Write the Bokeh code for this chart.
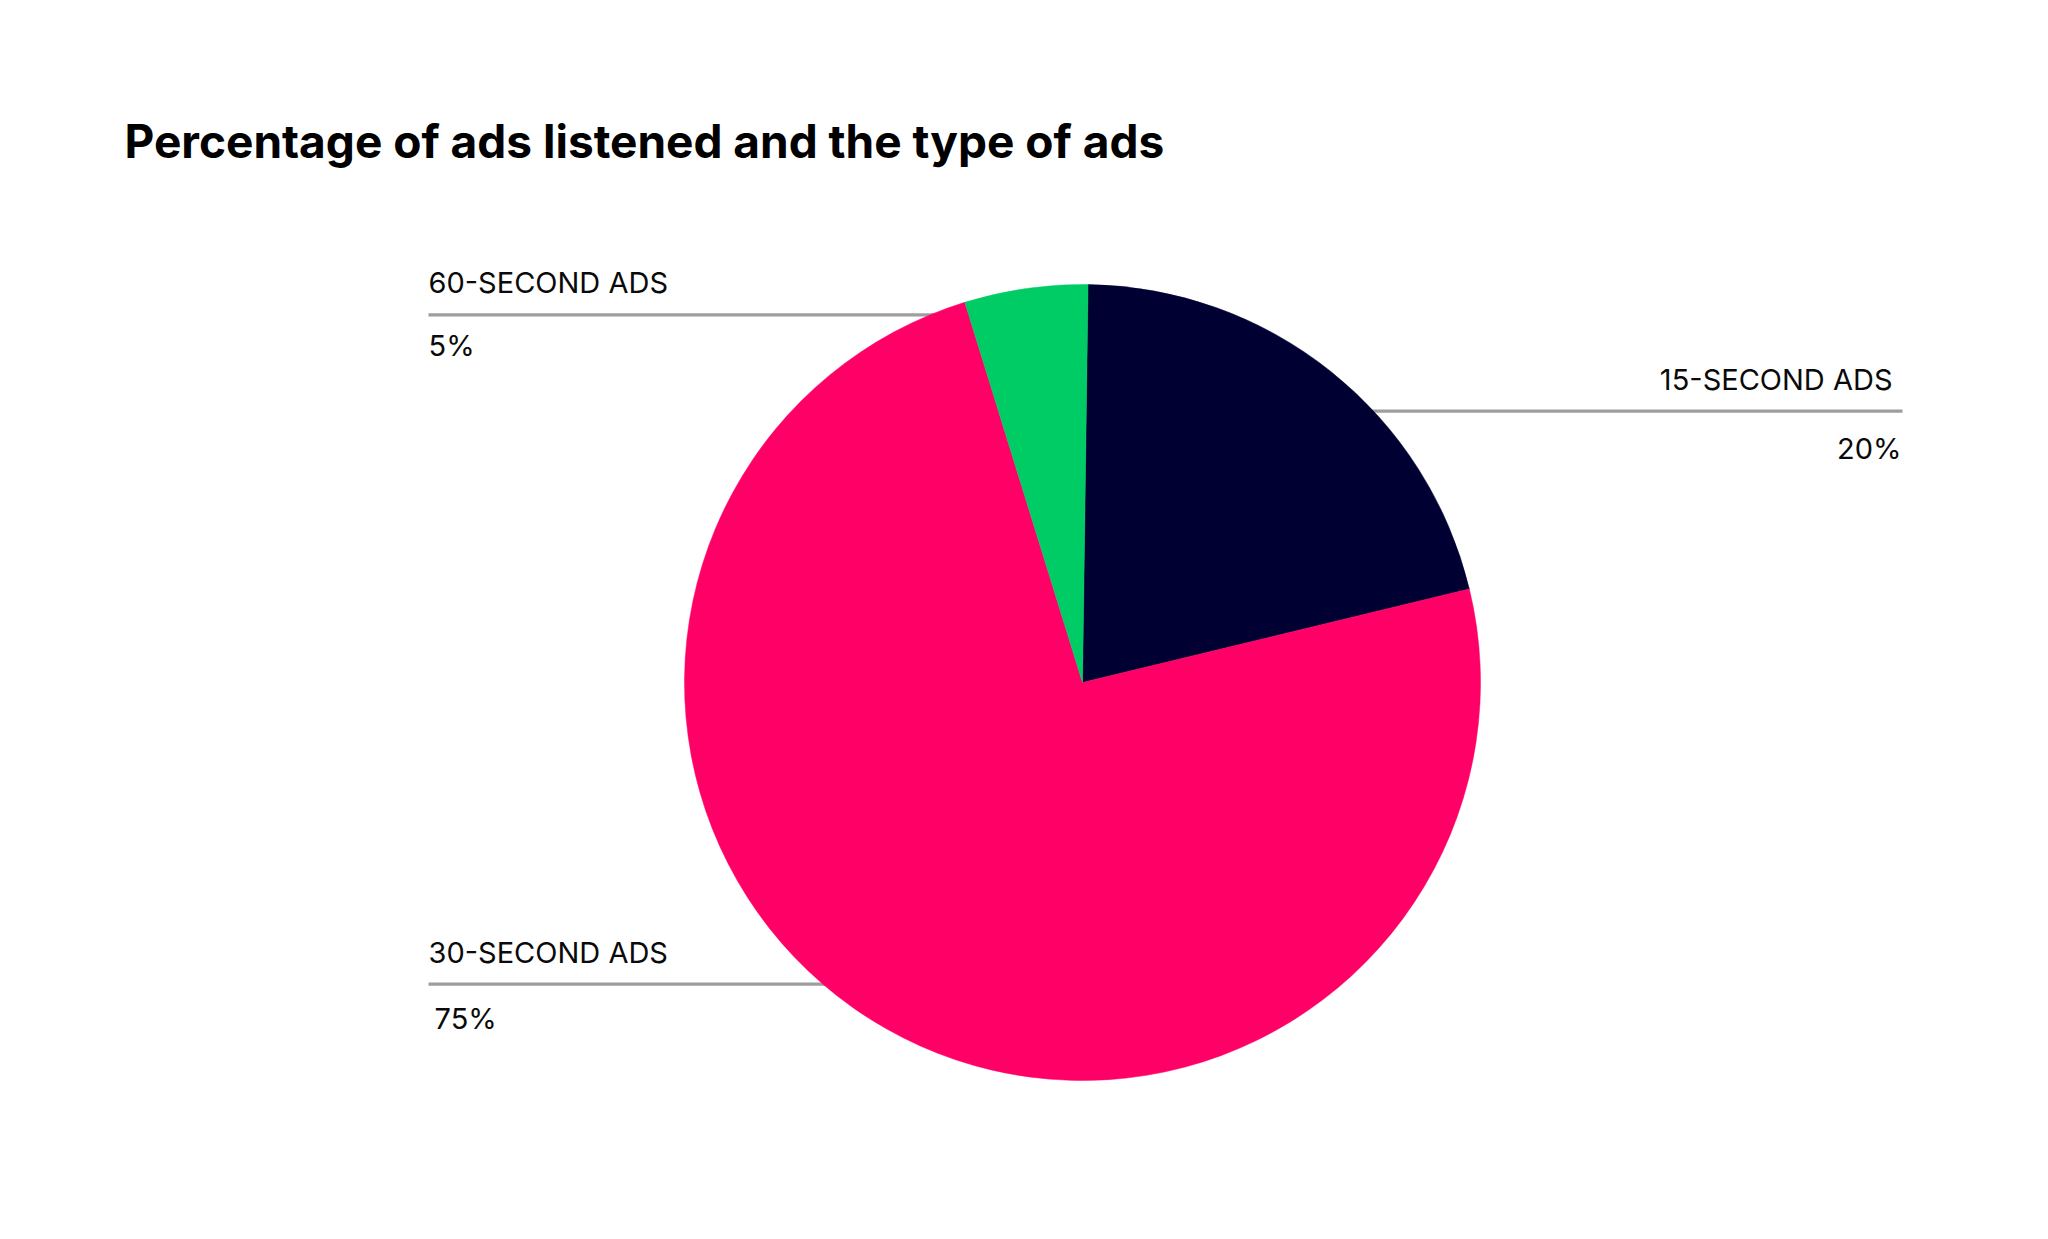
import math
from bokeh.plotting import figure
from bokeh.models import Range1d, ColumnDataSource
from bokeh.core.properties import value
from bokeh.embed import file_html
from bokeh.resources import INLINE

# ---- data ----
categories = ["15-SECOND ADS", "30-SECOND ADS", "60-SECOND ADS"]
shares = [21, 74, 5]                       # slice sizes as drawn
pct_labels = ["20%", "75%", "5%"]          # printed labels
colors = ["#000033", "#FF0066", "#00CC66"]
title = "Percentage of ads listened and the type of ads"

W, H = 2032, 1223
p = figure(width=W, height=H, output_backend="svg", toolbar_location=None,
           x_range=Range1d(0, W), y_range=Range1d(0, H),
           min_border=0, outline_line_color=None)
p.axis.visible = False
p.grid.visible = False
p.background_fill_color = "white"
p.border_fill_color = "white"

def Y(ref_y):
    return H - ref_y

cx, cy, r = 1082, Y(682), 398
start = math.radians(89.2)

# wedge angles (clockwise from near 12 o'clock)
total = sum(shares)
starts, ends = [], []
a = start
for v in shares:
    b = a - v / total * 2 * math.pi
    starts.append(a)
    ends.append(b)
    a = b

# leader lines (under the pie)
line_col = "#9E9E9E"
p.segment(x0=[cx, 428, 428], y0=[Y(410.7), Y(983.7), Y(314.3)],
          x1=[1902, cx, cx], y1=[Y(410.7), Y(983.7), Y(314.3)],
          line_color=line_col, line_width=3.2)

src = ColumnDataSource(dict(start=starts, end=ends, color=colors, cat=categories))
p.wedge(x=cx, y=cy, radius=r, start_angle="start", end_angle="end",
        direction="clock", fill_color="color", line_color="color", line_width=0.5,
        source=src)

font = value("Inter")
fs = "29px"
tc = "#0a0a0a"
d = 11  # baseline correction
p.text(x=[1892], y=[Y(390 - d)], text=[categories[0]], text_align="right",
       text_baseline="alphabetic", text_font=font, text_font_size=fs, text_color=tc)
p.text(x=[1901], y=[Y(459 - d)], text=[pct_labels[0]], text_align="right",
       text_baseline="alphabetic", text_font=font, text_font_size=fs, text_color=tc)
p.text(x=[428], y=[Y(963 - d)], text=[categories[1]], text_align="left",
       text_baseline="alphabetic", text_font=font, text_font_size=fs, text_color=tc)
p.text(x=[434], y=[Y(1029 - d)], text=[pct_labels[1]], text_align="left",
       text_baseline="alphabetic", text_font=font, text_font_size=fs, text_color=tc)
p.text(x=[428], y=[Y(293 - d)], text=[categories[2]], text_align="left",
       text_baseline="alphabetic", text_font=font, text_font_size=fs, text_color=tc)
p.text(x=[428], y=[Y(356 - d)], text=[pct_labels[2]], text_align="left",
       text_baseline="alphabetic", text_font=font, text_font_size=fs, text_color=tc)

# title
p.text(x=[124], y=[Y(157 - 17)], text=[title], text_align="left", text_baseline="alphabetic",
       text_font=font, text_font_style="bold", text_font_size="46px", text_color="#000000")

open("out.html", "w").write(file_html(p, INLINE))
